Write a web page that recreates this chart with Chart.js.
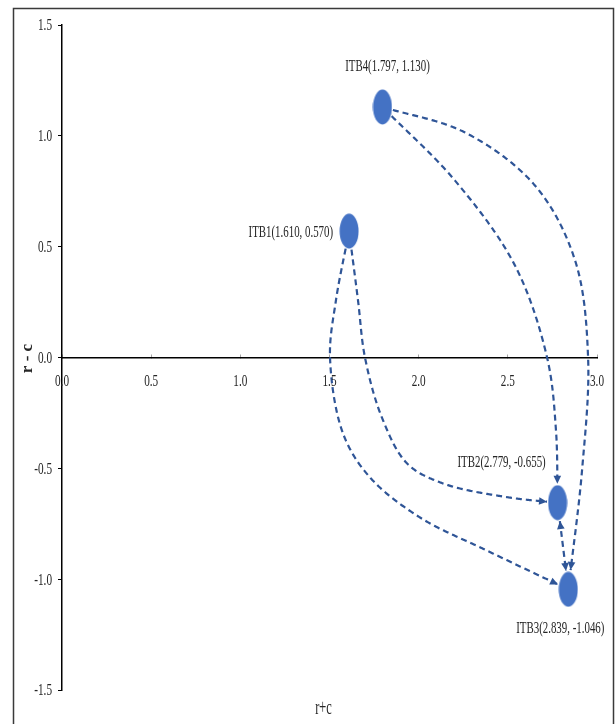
<!DOCTYPE html>
<html>
<head>
<meta charset="utf-8">
<script src="https://cdn.jsdelivr.net/npm/chart.js@4"></script>
<style>
  html, body { margin: 0; padding: 0; background: #fff; }
  canvas { display: block; }
</style>
</head>
<body>
<canvas id="c" width="615" height="724"></canvas>
<script>
// Prominence (r+c) and relation (r-c) of each factor
const names = ['ITB1', 'ITB2', 'ITB3', 'ITB4'];
const rPlusC = [1.610, 2.779, 2.839, 1.797];
const rMinusC = [0.570, -0.655, -1.046, 1.130];

const xTickLabels = ['0.0', '0.5', '1.0', '1.5', '2.0', '2.5', '3.0'];
const yTickLabels = ['-1.5', '-1.0', '-0.5', '0.0', '0.5', '1.0', '1.5'];

// Influence links between factors (indices into names) and the points each
// curved link passes through on its way, in (r+c, r-c) units.
const linkFrom = [3, 3, 0, 0, 1];
const linkTo   = [1, 2, 1, 2, 2];
const linkVia = [
  [[2.204, 0.798], [2.540, 0.415], [2.720, 0.000], [2.770, -0.329]],
  [[2.260, 1.015], [2.652, 0.776], [2.877, 0.438], [2.950, 0.000], [2.916, -0.510]],
  [[1.660, 0.257], [1.699, 0.000], [1.794, -0.271], [1.935, -0.478], [2.136, -0.568], [2.512, -0.632]],
  [[1.536, 0.257], [1.503, 0.000], [1.576, -0.343], [1.727, -0.541], [2.008, -0.722], [2.383, -0.871]],
  []
];
const linkBothWays = [false, false, false, false, true];

const MARK_RX = 10, MARK_RY = 18;
const LINK_COLOR = '#2F5597';
const SERIF = '"Liberation Serif", "DejaVu Serif", serif';

// oval marker
const marker = document.createElement('canvas');
marker.width = MARK_RX * 2;
marker.height = MARK_RY * 2;
(function () {
  const m = marker.getContext('2d');
  m.fillStyle = '#4472C4';
  m.beginPath();
  m.ellipse(MARK_RX, MARK_RY, MARK_RX - 0.5, MARK_RY - 0.5, 0, 0, Math.PI * 2);
  m.fill();
})();

function squeezeText(ctx, text, x, y, o) {
  ctx.save();
  ctx.translate(x, y);
  if (o.rotate) ctx.rotate(o.rotate);
  ctx.scale(o.sx || 1, 1);
  ctx.font = o.font;
  ctx.fillStyle = o.color || '#262626';
  ctx.textAlign = o.align || 'center';
  ctx.textBaseline = 'middle';
  ctx.fillText(text, 0, 0);
  ctx.restore();
}

const framePlugin = {
  id: 'frame',
  beforeDraw(chart) {
    const ctx = chart.ctx;
    ctx.save();
    ctx.fillStyle = '#fff';
    ctx.fillRect(0, 0, chart.width, chart.height);
    ctx.strokeStyle = '#3a3a3a';
    ctx.lineWidth = 1.5;
    ctx.strokeRect(13.5, 8.5, 600, 760);
    ctx.restore();
  }
};

function insideMark(p, c) {
  const dx = (p[0] - c[0]) / (MARK_RX + 0.5);
  const dy = (p[1] - c[1]) / (MARK_RY + 0.5);
  return dx * dx + dy * dy < 1;
}

function arrowHead(ctx, tip, prev) {
  const a = Math.atan2(tip[1] - prev[1], tip[0] - prev[0]);
  const len = 8, half = 3.8;
  ctx.save();
  ctx.translate(tip[0], tip[1]);
  ctx.rotate(a);
  ctx.beginPath();
  ctx.moveTo(0, 0);
  ctx.lineTo(-len, -half);
  ctx.lineTo(-len, half);
  ctx.closePath();
  ctx.fill();
  ctx.restore();
}

// centripetal Catmull-Rom spline through a list of pixel points
function splinePoints(P, perSeg) {
  const n = P.length;
  if (n === 2) {
    const out = [];
    for (let j = 0; j <= perSeg; j++) {
      const s = j / perSeg;
      out.push([P[0][0] + (P[1][0] - P[0][0]) * s, P[0][1] + (P[1][1] - P[0][1]) * s]);
    }
    return out;
  }
  const ext = (a, b) => [2 * a[0] - b[0], 2 * a[1] - b[1]];
  const Q = [ext(P[0], P[1])].concat(P).concat([ext(P[n - 1], P[n - 2])]);
  const dist = (a, b) => Math.pow(Math.hypot(b[0] - a[0], b[1] - a[1]), 0.5) || 1e-6;
  const lerp = (a, b, ta, tb, t) => {
    const w = (t - ta) / (tb - ta);
    return [a[0] + (b[0] - a[0]) * w, a[1] + (b[1] - a[1]) * w];
  };
  const out = [];
  for (let i = 1; i < Q.length - 2; i++) {
    const p0 = Q[i - 1], p1 = Q[i], p2 = Q[i + 1], p3 = Q[i + 2];
    const t0 = 0, t1 = t0 + dist(p0, p1), t2 = t1 + dist(p1, p2), t3 = t2 + dist(p2, p3);
    for (let j = 0; j < perSeg; j++) {
      const t = t1 + (t2 - t1) * j / perSeg;
      const A1 = lerp(p0, p1, t0, t1, t), A2 = lerp(p1, p2, t1, t2, t), A3 = lerp(p2, p3, t2, t3, t);
      const B1 = lerp(A1, A2, t0, t2, t), B2 = lerp(A2, A3, t1, t3, t);
      out.push(lerp(B1, B2, t1, t2, t));
    }
  }
  out.push(P[n - 1].slice());
  return out;
}

const linksPlugin = {
  id: 'links',
  beforeDatasetsDraw(chart) {
    const xs = chart.scales.x, ys = chart.scales.y, ctx = chart.ctx;
    const px = (d) => [xs.getPixelForValue(d[0]), ys.getPixelForValue(d[1])];
    ctx.save();
    ctx.strokeStyle = LINK_COLOR;
    ctx.fillStyle = LINK_COLOR;
    ctx.lineWidth = 2.2;
    linkFrom.forEach((f, k) => {
      const t = linkTo[k];
      const p0 = px([rPlusC[f], rMinusC[f]]);
      const p3 = px([rPlusC[t], rMinusC[t]]);
      const route = [p0].concat(linkVia[k].map(px)).concat([p3]);
      const pts = splinePoints(route, 80).filter((q) => !insideMark(q, p0) && !insideMark(q, p3));
      if (pts.length < 6) return;
      ctx.setLineDash([6, 4]);
      ctx.beginPath();
      ctx.moveTo(pts[0][0], pts[0][1]);
      for (let i = 1; i < pts.length; i++) ctx.lineTo(pts[i][0], pts[i][1]);
      ctx.stroke();
      ctx.setLineDash([]);
      arrowHead(ctx, pts[pts.length - 1], pts[pts.length - 6]);
      if (linkBothWays[k]) arrowHead(ctx, pts[0], pts[5]);
    });
    ctx.restore();
  }
};

// label placement around each marker: [dx, dy, align]
const labelPlace = [[-16, 1, 'right'], [-56, -40, 'center'], [-8, 39, 'center'], [5, -40, 'center']];

const textPlugin = {
  id: 'texts',
  afterDraw(chart) {
    const xs = chart.scales.x, ys = chart.scales.y, ctx = chart.ctx;
    const tickFont = '17px ' + SERIF;
    const y0 = ys.getPixelForValue(0);
    xs.ticks.forEach((tk, i) => {
      squeezeText(ctx, tk.label || xTickLabels[i], xs.getPixelForValue(tk.value), y0 + 24,
        { font: tickFont, sx: 0.66 });
    });
    ys.ticks.forEach((tk, i) => {
      squeezeText(ctx, tk.label || yTickLabels[i], ys.right - 10, ys.getPixelForValue(tk.value) + 1,
        { font: tickFont, sx: 0.66, align: 'right' });
    });
    names.forEach((n, i) => {
      const x = xs.getPixelForValue(rPlusC[i]);
      const y = ys.getPixelForValue(rMinusC[i]);
      const txt = n + '(' + rPlusC[i].toFixed(3) + ', ' + rMinusC[i].toFixed(3) + ')';
      const pl = labelPlace[i];
      squeezeText(ctx, txt, x + pl[0], y + pl[1], { font: '17px ' + SERIF, sx: 0.64, align: pl[2] });
    });
    squeezeText(ctx, 'r+c', (xs.left + xs.right) / 2 - 6, 709, { font: '20px ' + SERIF, sx: 0.62 });
    squeezeText(ctx, 'r - c', 28, (ys.top + ys.bottom) / 2 + 1,
      { font: 'bold 17px ' + SERIF, rotate: -Math.PI / 2, sx: 1 });
  }
};

new Chart(document.getElementById('c'), {
  type: 'scatter',
  data: {
    datasets: [{
      data: rPlusC.map((x, i) => ({ x: x, y: rMinusC[i] })),
      pointStyle: marker,
      backgroundColor: '#4472C4',
      borderWidth: 0
    }]
  },
  options: {
    responsive: false,
    animation: false,
    devicePixelRatio: 1,
    layout: { padding: { left: 0, right: 18, top: 25, bottom: 34 } },
    plugins: { legend: { display: false }, tooltip: { enabled: false } },
    scales: {
      x: {
        type: 'linear', min: 0, max: 3,
        position: { y: 0 },
        ticks: { stepSize: 0.5, display: false, callback: (v, i) => xTickLabels[i] },
        grid: { drawOnChartArea: false, drawTicks: true, tickLength: -4, color: '#a6a6a6', lineWidth: 1 },
        border: { color: '#000', width: 1.5 },
        afterFit(s) { s.height = 0; }
      },
      y: {
        type: 'linear', min: -1.5, max: 1.5,
        position: 'left',
        ticks: { stepSize: 0.5, display: false, callback: (v, i) => yTickLabels[i] },
        grid: { drawOnChartArea: false, drawTicks: true, tickLength: 4, color: '#000', lineWidth: 1 },
        border: { color: '#000', width: 1.5 },
        afterFit(s) { s.width = 62; }
      }
    }
  },
  plugins: [framePlugin, linksPlugin, textPlugin]
});
</script>
</body>
</html>
